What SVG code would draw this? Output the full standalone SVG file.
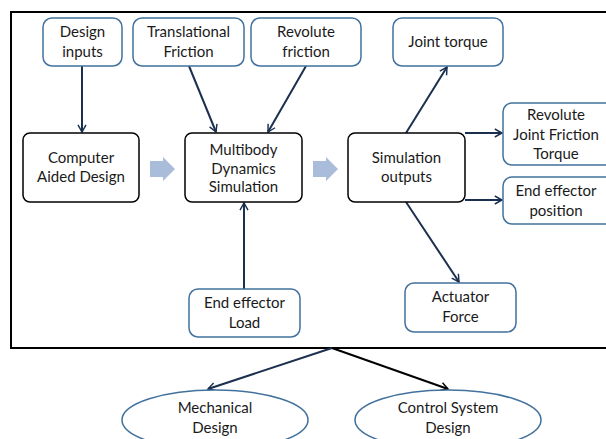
<svg xmlns="http://www.w3.org/2000/svg" width="606" height="439" viewBox="0 0 606 439">
<defs>
<style>
.b{fill:#fff;stroke:#41719c;stroke-width:1.5}
.k{fill:#fff;stroke:#000;stroke-width:1.5}
.e{fill:#fff;stroke:#41719c;stroke-width:1.5}
.t{font-family:Lato,"Open Sans",sans-serif;font-size:15px;fill:#1a1a1a;text-anchor:middle}
.c{fill:none;stroke:#1b2f4f;stroke-width:2}
.blk{fill:#a9bcd9}
</style>
<marker id="ah" viewBox="0 0 10 10" refX="9" refY="5" markerWidth="8" markerHeight="8" orient="auto" markerUnits="userSpaceOnUse" overflow="visible">
<path d="M0,0 L9,5 L0,10" fill="none" stroke="#1b2f4f" stroke-width="1.8"/>
</marker>
<marker id="ahk" viewBox="0 0 10 10" refX="9" refY="5" markerWidth="8" markerHeight="8" orient="auto" markerUnits="userSpaceOnUse" overflow="visible">
<path d="M0,0 L9,5 L0,10" fill="none" stroke="#000" stroke-width="1.8"/>
</marker>
</defs>
<rect width="606" height="439" fill="#fff"/>
<rect id="frame" x="11" y="12" width="610" height="336" fill="none" stroke="#000" stroke-width="2"/>
<g id="connectors">
<path class="c" d="M82,66 L82,132" marker-end="url(#ah)"/>
<path class="c" d="M189,66 L216,132" marker-end="url(#ah)"/>
<path class="c" d="M306,66 L268,132" marker-end="url(#ah)"/>
<path class="c" d="M244,289 L244,203" marker-end="url(#ah)"/>
<path class="c" d="M406,133 L447,67" marker-end="url(#ah)"/>
<path class="c" d="M465,133 L502,133" marker-end="url(#ah)"/>
<path class="c" d="M465,200 L502,200" marker-end="url(#ah)"/>
<path class="c" d="M406,202 L459,282" marker-end="url(#ah)"/>
<path class="c" d="M332,348 L208,389" marker-end="url(#ah)"/>
<path d="M332,348 L448,389" fill="none" stroke="#000" stroke-width="2" marker-end="url(#ahk)"/>
<path class="blk" d="M150,161 L163,161 L163,157 L175,169 L163,181 L163,177 L150,177 Z"/>
<path class="blk" d="M313,161 L326,161 L326,157 L338,169 L326,181 L326,177 L313,177 Z"/>
</g>
<g id="design-inputs"><rect class="b" x="43" y="18" width="79" height="48" rx="9"/><text class="t" x="82.5" y="37">Design</text><text class="t" x="82.5" y="57">inputs</text></g>
<g id="translational-friction"><rect class="b" x="133" y="18" width="111" height="48" rx="9"/><text class="t" x="188.5" y="37">Translational</text><text class="t" x="188.5" y="57">Friction</text></g>
<g id="revolute-friction"><rect class="b" x="251" y="18" width="110" height="48" rx="9"/><text class="t" x="306" y="37">Revolute</text><text class="t" x="306" y="57">friction</text></g>
<g id="joint-torque"><rect class="b" x="393" y="18" width="110" height="48" rx="9"/><text class="t" x="448" y="47">Joint torque</text></g>
<g id="revolute-joint-friction-torque"><rect class="b" x="503" y="103" width="120" height="62" rx="9"/><text class="t" x="556" y="120">Revolute</text><text class="t" x="556" y="140">Joint Friction</text><text class="t" x="556" y="159">Torque</text></g>
<g id="end-effector-position"><rect class="b" x="503" y="177" width="120" height="47" rx="9"/><text class="t" x="556" y="196">End effector</text><text class="t" x="556" y="216">position</text></g>
<g id="cad"><rect class="k" x="23" y="133" width="116" height="69" rx="7"/><text class="t" x="81" y="163">Computer</text><text class="t" x="81" y="182">Aided Design</text></g>
<g id="multibody"><rect class="k" x="185" y="133" width="117" height="69" rx="7"/><text class="t" x="243.5" y="155">Multibody</text><text class="t" x="243.5" y="174">Dynamics</text><text class="t" x="243.5" y="192">Simulation</text></g>
<g id="simulation-outputs"><rect class="k" x="348" y="133" width="117" height="69" rx="7"/><text class="t" x="406.5" y="163">Simulation</text><text class="t" x="406.5" y="182">outputs</text></g>
<g id="end-effector-load"><rect class="b" x="189" y="289" width="111" height="48" rx="9"/><text class="t" x="244.5" y="308">End effector</text><text class="t" x="244.5" y="328">Load</text></g>
<g id="actuator-force"><rect class="b" x="405" y="283" width="111" height="49" rx="9"/><text class="t" x="460.5" y="302">Actuator</text><text class="t" x="460.5" y="322">Force</text></g>
<g id="mechanical-design"><ellipse class="e" cx="215" cy="420" rx="93" ry="30"/><text class="t" x="215" y="413">Mechanical</text><text class="t" x="215" y="433">Design</text></g>
<g id="control-system-design"><ellipse class="e" cx="448" cy="420" rx="93" ry="30"/><text class="t" x="448" y="413">Control System</text><text class="t" x="448" y="433">Design</text></g>
</svg>
